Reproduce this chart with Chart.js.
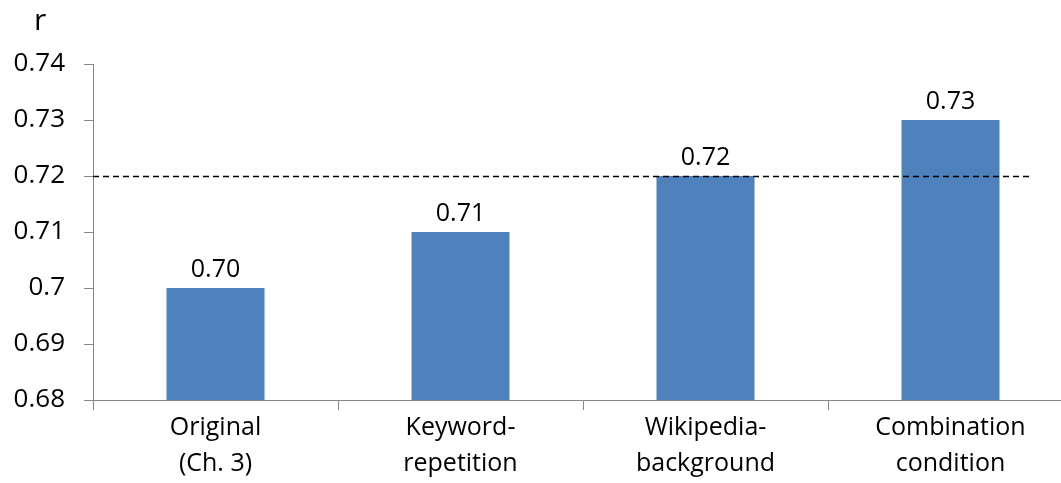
<!DOCTYPE html>
<html><head><meta charset="utf-8">
<script src="https://cdn.jsdelivr.net/npm/chart.js@4"></script>
<style>html,body{margin:0;padding:0;background:#fff;overflow:hidden;width:1061px;height:483px}</style>
</head><body>
<canvas id="c" width="1100" height="483"></canvas>
<script>
const categories = [["Original","(Ch. 3)"],["Keyword-","repetition"],["Wikipedia-","background"],["Combination","condition"]];
const values = [0.70, 0.71, 0.72, 0.73];
const valueLabels = ["0.70","0.71","0.72","0.73"];
const yTicks = [0.68, 0.69, 0.70, 0.71, 0.72, 0.73, 0.74];
const yTickLabels = ["0.68","0.69","0.7","0.71","0.72","0.73","0.74"];
const referenceValue = 0.72;
const axisTitle = "r";

const FONT = "'Open Sans', Lato, sans-serif";

const extras = {
  id: 'extras',
  afterDatasetsDraw(chart) {
    const ctx = chart.ctx;
    const y = chart.scales.y;
    const area = chart.chartArea;
    const ry = Math.round(y.getPixelForValue(referenceValue)) + 0.5;
    ctx.save();
    ctx.strokeStyle = '#000';
    ctx.lineWidth = 1.3;
    ctx.setLineDash([6, 4]);
    ctx.beginPath();
    ctx.moveTo(area.left, ry);
    ctx.lineTo(1030, ry);
    ctx.stroke();
    ctx.setLineDash([]);
    ctx.fillStyle = '#000';
    ctx.font = "25px " + FONT;
    ctx.textAlign = 'center';
    ctx.textBaseline = 'bottom';
    chart.getDatasetMeta(0).data.forEach((bar, i) => {
      ctx.fillText(valueLabels[i], bar.x, bar.y - 6);
    });
    ctx.font = "30px " + FONT;
    ctx.textAlign = 'left';
    ctx.textBaseline = 'middle';
    ctx.fillText(axisTitle, 34, 21);
    ctx.restore();
  }
};

new Chart(document.getElementById('c'), {
  type: 'bar',
  data: {
    labels: categories,
    datasets: [{
      data: values,
      backgroundColor: '#4F81BD',
      borderWidth: 0,
      barPercentage: 0.4,
      categoryPercentage: 1.0
    }]
  },
  options: {
    responsive: false,
    animation: false,
    layout: { padding: { left: 0, right: 27, top: 64, bottom: 0 } },
    plugins: { legend: { display: false }, tooltip: { enabled: false }, title: { display: false } },
    scales: {
      x: {
        grid: { display: true, drawOnChartArea: false, drawTicks: true, tickLength: 10, color: '#868686', offset: true },
        border: { display: true, color: '#868686', width: 1 },
        ticks: { color: '#000', font: { family: FONT, size: 25, lineHeight: 1.44 }, padding: 0, maxRotation: 0, autoSkip: false },
        afterFit(scale) { scale.height = 83; }
      },
      y: {
        min: 0.68, max: 0.74,
        afterBuildTicks(scale) { scale.ticks = yTicks.map(v => ({ value: v })); },
        afterFit(scale) { scale.width = 93; },
        grid: { display: true, drawOnChartArea: false, drawTicks: true, tickLength: 9, color: '#868686' },
        border: { display: true, color: '#868686', width: 1 },
        ticks: {
          color: '#000', font: { family: FONT, size: 26 }, padding: 19,
          callback: (v) => { const i = yTicks.findIndex(t => Math.abs(t - v) < 1e-9); return i >= 0 ? yTickLabels[i] : ''; }
        }
      }
    }
  },
  plugins: [extras]
});
</script>
</body></html>
